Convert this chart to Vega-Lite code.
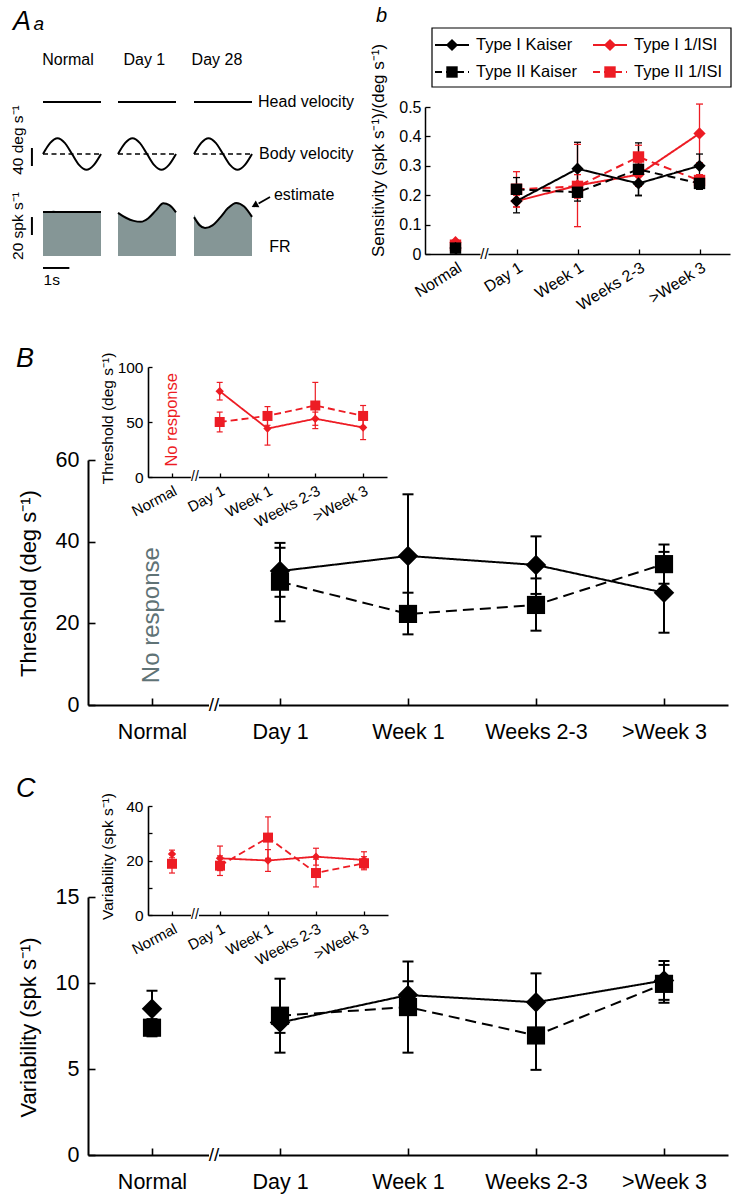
{
"$schema":"https://vega.github.io/schema/vega-lite/v6.json",
"width":733,"height":1199,"padding":0,"autosize":{"type":"none"},"background":"white",
"config":{"view":{"stroke":null},"font":"Liberation Sans",
 "axis":{"grid":false,"domainColor":"#000","tickColor":"#000","labelColor":"#000","titleColor":"#000","titleFontWeight":"normal","labelFont":"Liberation Sans","titleFont":"Liberation Sans"},
 "text":{"font":"Liberation Sans","color":"#000"}},
"datasets":{
 "notes":[{"id":"A","txt":"A"},{"id":"a","txt":"a"},{"id":"normal","txt":"Normal"},{"id":"day1","txt":"Day 1"},{"id":"day28","txt":"Day 28"},{"id":"head","txt":"Head velocity"},{"id":"body","txt":"Body velocity"},{"id":"est","txt":"estimate"},{"id":"fr","txt":"FR"},{"id":"deg","txt":"40 deg s⁻¹"},{"id":"spk","txt":"20 spk s⁻¹"},{"id":"sec","txt":"1s"},{"id":"b","txt":"b"},{"id":"B","txt":"B"},{"id":"C","txt":"C"},{"id":"nr","txt":"No response"},{"id":"brk","txt":"//"}],
 "tr":[
  {"cond":"Normal","trace":"head","t":0,"v":0},{"cond":"Normal","trace":"head","t":2.2,"v":0},
  {"cond":"Day 1","trace":"head","t":0,"v":0},{"cond":"Day 1","trace":"head","t":2.2,"v":0},
  {"cond":"Day 28","trace":"head","t":0,"v":0},{"cond":"Day 28","trace":"head","t":2.2,"v":0},
  {"cond":"Normal","trace":"body","t":0,"v":0},{"cond":"Normal","trace":"body","t":0.275,"v":24.7},{"cond":"Normal","trace":"body","t":0.55,"v":35},{"cond":"Normal","trace":"body","t":0.825,"v":24.7},{"cond":"Normal","trace":"body","t":1.1,"v":0},{"cond":"Normal","trace":"body","t":1.375,"v":-24.7},{"cond":"Normal","trace":"body","t":1.65,"v":-35},{"cond":"Normal","trace":"body","t":1.925,"v":-24.7},{"cond":"Normal","trace":"body","t":2.2,"v":0},
  {"cond":"Day 1","trace":"body","t":0,"v":0},{"cond":"Day 1","trace":"body","t":0.275,"v":24.7},{"cond":"Day 1","trace":"body","t":0.55,"v":35},{"cond":"Day 1","trace":"body","t":0.825,"v":24.7},{"cond":"Day 1","trace":"body","t":1.1,"v":0},{"cond":"Day 1","trace":"body","t":1.375,"v":-24.7},{"cond":"Day 1","trace":"body","t":1.65,"v":-35},{"cond":"Day 1","trace":"body","t":1.925,"v":-24.7},{"cond":"Day 1","trace":"body","t":2.2,"v":0},
  {"cond":"Day 28","trace":"body","t":0,"v":0},{"cond":"Day 28","trace":"body","t":0.275,"v":24.7},{"cond":"Day 28","trace":"body","t":0.55,"v":35},{"cond":"Day 28","trace":"body","t":0.825,"v":24.7},{"cond":"Day 28","trace":"body","t":1.1,"v":0},{"cond":"Day 28","trace":"body","t":1.375,"v":-24.7},{"cond":"Day 28","trace":"body","t":1.65,"v":-35},{"cond":"Day 28","trace":"body","t":1.925,"v":-24.7},{"cond":"Day 28","trace":"body","t":2.2,"v":0},
  {"cond":"Normal","trace":"est","t":0,"v":49},{"cond":"Normal","trace":"est","t":2.2,"v":49},
  {"cond":"Day 1","trace":"est","t":0,"v":48},{"cond":"Day 1","trace":"est","t":0.3,"v":42.5},{"cond":"Day 1","trace":"est","t":0.6,"v":39},{"cond":"Day 1","trace":"est","t":0.87,"v":38},{"cond":"Day 1","trace":"est","t":1.15,"v":42},{"cond":"Day 1","trace":"est","t":1.45,"v":51},{"cond":"Day 1","trace":"est","t":1.72,"v":58.5},{"cond":"Day 1","trace":"est","t":1.95,"v":56.5},{"cond":"Day 1","trace":"est","t":2.2,"v":48.5},
  {"cond":"Day 28","trace":"est","t":0,"v":43},{"cond":"Day 28","trace":"est","t":0.2,"v":34.5},{"cond":"Day 28","trace":"est","t":0.42,"v":31},{"cond":"Day 28","trace":"est","t":0.7,"v":34},{"cond":"Day 28","trace":"est","t":1.0,"v":43},{"cond":"Day 28","trace":"est","t":1.3,"v":53.5},{"cond":"Day 28","trace":"est","t":1.6,"v":59},{"cond":"Day 28","trace":"est","t":1.9,"v":55},{"cond":"Day 28","trace":"est","t":2.2,"v":43.5},
  {"cond":"Normal","trace":"rate","t":0,"v":48.5},{"cond":"Normal","trace":"rate","t":0.25,"v":49},{"cond":"Normal","trace":"rate","t":0.4,"v":50.5},{"cond":"Normal","trace":"rate","t":0.55,"v":49},{"cond":"Normal","trace":"rate","t":0.8,"v":48.5},{"cond":"Normal","trace":"rate","t":2.2,"v":48.5},
  {"cond":"Day 1","trace":"rate","t":0,"v":47.5},{"cond":"Day 1","trace":"rate","t":0.3,"v":42},{"cond":"Day 1","trace":"rate","t":0.6,"v":38.5},{"cond":"Day 1","trace":"rate","t":0.87,"v":37.5},{"cond":"Day 1","trace":"rate","t":1.15,"v":41.5},{"cond":"Day 1","trace":"rate","t":1.45,"v":50.5},{"cond":"Day 1","trace":"rate","t":1.72,"v":58},{"cond":"Day 1","trace":"rate","t":1.95,"v":56},{"cond":"Day 1","trace":"rate","t":2.2,"v":48},
  {"cond":"Day 28","trace":"rate","t":0,"v":46},{"cond":"Day 28","trace":"rate","t":0.2,"v":37},{"cond":"Day 28","trace":"rate","t":0.42,"v":32},{"cond":"Day 28","trace":"rate","t":0.7,"v":34},{"cond":"Day 28","trace":"rate","t":1.0,"v":42.5},{"cond":"Day 28","trace":"rate","t":1.3,"v":53},{"cond":"Day 28","trace":"rate","t":1.6,"v":58.5},{"cond":"Day 28","trace":"rate","t":1.9,"v":54},{"cond":"Day 28","trace":"rate","t":2.2,"v":43}
 ],
 "sens":[
  {"cond":"Normal","type":"Type I","method":"1/ISI","v":0.04,"lo":0.035,"hi":0.045},
  {"cond":"Day 1","type":"Type I","method":"1/ISI","v":0.18,"lo":0.16,"hi":0.2},
  {"cond":"Week 1","type":"Type I","method":"1/ISI","v":0.233,"lo":0.093,"hi":0.373},
  {"cond":"Weeks 2-3","type":"Type I","method":"1/ISI","v":0.27,"lo":0.23,"hi":0.31},
  {"cond":">Week 3","type":"Type I","method":"1/ISI","v":0.41,"lo":0.31,"hi":0.51},
  {"cond":"Normal","type":"Type II","method":"1/ISI","v":0.03,"lo":0.025,"hi":0.035},
  {"cond":"Day 1","type":"Type II","method":"1/ISI","v":0.22,"lo":0.16,"hi":0.28},
  {"cond":"Week 1","type":"Type II","method":"1/ISI","v":0.23,"lo":0.19,"hi":0.27},
  {"cond":"Weeks 2-3","type":"Type II","method":"1/ISI","v":0.33,"lo":0.29,"hi":0.37},
  {"cond":">Week 3","type":"Type II","method":"1/ISI","v":0.25,"lo":0.23,"hi":0.27},
  {"cond":"Normal","type":"Type I","method":"Kaiser","v":0.02,"lo":0.012,"hi":0.028},
  {"cond":"Day 1","type":"Type I","method":"Kaiser","v":0.18,"lo":0.14,"hi":0.22},
  {"cond":"Week 1","type":"Type I","method":"Kaiser","v":0.29,"lo":0.2,"hi":0.38},
  {"cond":"Weeks 2-3","type":"Type I","method":"Kaiser","v":0.24,"lo":0.2,"hi":0.28},
  {"cond":">Week 3","type":"Type I","method":"Kaiser","v":0.3,"lo":0.26,"hi":0.34},
  {"cond":"Normal","type":"Type II","method":"Kaiser","v":0.02,"lo":0.012,"hi":0.028},
  {"cond":"Day 1","type":"Type II","method":"Kaiser","v":0.22,"lo":0.18,"hi":0.26},
  {"cond":"Week 1","type":"Type II","method":"Kaiser","v":0.21,"lo":0.18,"hi":0.24},
  {"cond":"Weeks 2-3","type":"Type II","method":"Kaiser","v":0.288,"lo":0.198,"hi":0.378},
  {"cond":">Week 3","type":"Type II","method":"Kaiser","v":0.24,"lo":0.22,"hi":0.26}
 ],
 "thr":[
  {"cond":"Day 1","type":"Type I","method":"Kaiser","v":32.8,"lo":26.5,"hi":39.7},
  {"cond":"Week 1","type":"Type I","method":"Kaiser","v":36.5,"lo":21.5,"hi":51.6},
  {"cond":"Weeks 2-3","type":"Type I","method":"Kaiser","v":34.3,"lo":27.2,"hi":41.3},
  {"cond":">Week 3","type":"Type I","method":"Kaiser","v":27.5,"lo":17.7,"hi":37.5},
  {"cond":"Day 1","type":"Type II","method":"Kaiser","v":30.2,"lo":20.5,"hi":38.5},
  {"cond":"Week 1","type":"Type II","method":"Kaiser","v":22.3,"lo":17.3,"hi":27.5},
  {"cond":"Weeks 2-3","type":"Type II","method":"Kaiser","v":24.5,"lo":18.2,"hi":31},
  {"cond":">Week 3","type":"Type II","method":"Kaiser","v":34.5,"lo":29.7,"hi":39.3},
  {"cond":"Day 1","type":"Type I","method":"1/ISI","v":78,"lo":70,"hi":86},
  {"cond":"Week 1","type":"Type I","method":"1/ISI","v":44,"lo":29,"hi":56},
  {"cond":"Weeks 2-3","type":"Type I","method":"1/ISI","v":53,"lo":47,"hi":59},
  {"cond":">Week 3","type":"Type I","method":"1/ISI","v":45,"lo":34,"hi":56},
  {"cond":"Day 1","type":"Type II","method":"1/ISI","v":50,"lo":41,"hi":59},
  {"cond":"Week 1","type":"Type II","method":"1/ISI","v":55.5,"lo":47,"hi":64},
  {"cond":"Weeks 2-3","type":"Type II","method":"1/ISI","v":65,"lo":44,"hi":86},
  {"cond":">Week 3","type":"Type II","method":"1/ISI","v":55.5,"lo":46,"hi":65}
 ],
 "var":[
  {"cond":"Normal","type":"Type I","method":"Kaiser","v":8.5,"lo":7.45,"hi":9.55},
  {"cond":"Day 1","type":"Type I","method":"Kaiser","v":7.7,"lo":7.1,"hi":8.3},
  {"cond":"Week 1","type":"Type I","method":"Kaiser","v":9.3,"lo":8.5,"hi":10.1},
  {"cond":"Weeks 2-3","type":"Type I","method":"Kaiser","v":8.88,"lo":7.2,"hi":10.56},
  {"cond":">Week 3","type":"Type I","method":"Kaiser","v":10.15,"lo":9.02,"hi":11.28},
  {"cond":"Normal","type":"Type II","method":"Kaiser","v":7.4,"lo":6.9,"hi":7.9},
  {"cond":"Day 1","type":"Type II","method":"Kaiser","v":8.1,"lo":5.95,"hi":10.25},
  {"cond":"Week 1","type":"Type II","method":"Kaiser","v":8.6,"lo":5.95,"hi":11.25},
  {"cond":"Weeks 2-3","type":"Type II","method":"Kaiser","v":6.95,"lo":4.95,"hi":8.95},
  {"cond":">Week 3","type":"Type II","method":"Kaiser","v":9.95,"lo":8.85,"hi":11.05},
  {"cond":"Normal","type":"Type I","method":"1/ISI","v":22.4,"lo":21,"hi":23.8},
  {"cond":"Day 1","type":"Type I","method":"1/ISI","v":20.8,"lo":16.3,"hi":25.3},
  {"cond":"Week 1","type":"Type I","method":"1/ISI","v":20,"lo":16,"hi":24},
  {"cond":"Weeks 2-3","type":"Type I","method":"1/ISI","v":21.4,"lo":18.3,"hi":24.5},
  {"cond":">Week 3","type":"Type I","method":"1/ISI","v":20.2,"lo":17.2,"hi":23.2},
  {"cond":"Normal","type":"Type II","method":"1/ISI","v":18.8,"lo":15.4,"hi":22.2},
  {"cond":"Day 1","type":"Type II","method":"1/ISI","v":18.1,"lo":14.5,"hi":21.7},
  {"cond":"Week 1","type":"Type II","method":"1/ISI","v":28.4,"lo":20.8,"hi":36},
  {"cond":"Weeks 2-3","type":"Type II","method":"1/ISI","v":15.4,"lo":10.3,"hi":20.5},
  {"cond":">Week 3","type":"Type II","method":"1/ISI","v":19,"lo":16.6,"hi":21.4}
 ],
 "leg":[
  {"type":"Type I","method":"Kaiser","label":"Type I Kaiser"},
  {"type":"Type I","method":"1/ISI","label":"Type I 1/ISI"},
  {"type":"Type II","method":"Kaiser","label":"Type II Kaiser"},
  {"type":"Type II","method":"1/ISI","label":"Type II 1/ISI"}
 ]
},
"resolve":{"scale":{"x":"independent","y":"independent"}},
"layer":[
 {"layer":[
  {"data":{"name":"tr"},"transform":[{"filter":"datum.cond === 'Normal' && datum.trace === 'head'"}],"mark":{"type":"line","color":"#000","strokeWidth":2.2},"encoding":{"x":{"field":"t","type":"quantitative","scale":{"domain":[0,2.2],"range":[43,101],"nice":false,"zero":false},"axis":null},"y":{"field":"v","type":"quantitative","scale":{"domain":[-40,40],"range":[120,84],"nice":false,"zero":false},"axis":null}}},
  {"data":{"name":"notes"},"transform":[{"filter":"datum.id === 'normal'"}],"mark":{"type":"text","fontSize":16,"align":"center","baseline":"middle"},"encoding":{"x":{"datum":0.95,"axis":null},"y":{"datum":93,"axis":null},"text":{"field":"txt"}}},
  {"data":{"name":"notes"},"transform":[{"filter":"datum.id === 'A'"}],"mark":{"type":"text","fontSize":27,"fontStyle":"italic","align":"left","baseline":"alphabetic"},"encoding":{"x":{"datum":-1.14,"axis":null},"y":{"datum":160,"axis":null},"text":{"field":"txt"}}},
  {"data":{"name":"notes"},"transform":[{"filter":"datum.id === 'a'"}],"mark":{"type":"text","fontSize":19,"fontStyle":"italic","align":"left","baseline":"alphabetic"},"encoding":{"x":{"datum":-0.36,"axis":null},"y":{"datum":160,"axis":null},"text":{"field":"txt"}}}
 ]},
 {"layer":[
  {"data":{"name":"tr"},"transform":[{"filter":"datum.cond === 'Normal' && datum.trace === 'body'"}],"mark":{"type":"line","color":"#000","strokeWidth":2,"interpolate":"monotone"},"encoding":{"x":{"field":"t","type":"quantitative","scale":{"domain":[0,2.2],"range":[43,101],"nice":false,"zero":false},"axis":null},"y":{"field":"v","type":"quantitative","scale":{"domain":[-40,40],"range":[172,136],"nice":false,"zero":false},"axis":null}}},
  {"data":{"name":"notes"},"transform":[{"filter":"datum.id === 'deg'"}],"mark":{"type":"rule","color":"#000","strokeWidth":1.5,"strokeDash":[5,3.5]},"encoding":{"x":{"datum":0,"axis":null},"x2":{"datum":2.2},"y":{"datum":0,"axis":null}}},
  {"data":{"name":"notes"},"transform":[{"filter":"datum.id === 'deg'"}],"mark":{"type":"rule","color":"#000","strokeWidth":2},"encoding":{"x":{"datum":-0.42,"axis":null},"y":{"datum":-26.7,"axis":null},"y2":{"datum":13.3}}},
  {"data":{"name":"notes"},"transform":[{"filter":"datum.id === 'deg'"}],"mark":{"type":"text","fontSize":15.5,"angle":270,"align":"center","baseline":"middle"},"encoding":{"x":{"datum":-0.95,"axis":null},"y":{"datum":31,"axis":null},"text":{"field":"txt"}}}
 ]},
 {"layer":[
  {"data":{"name":"tr"},"transform":[{"filter":"datum.cond === 'Normal' && datum.trace === 'rate'"}],"mark":{"type":"area","color":"#859696","opacity":1,"interpolate":"monotone"},"encoding":{"x":{"field":"t","type":"quantitative","scale":{"domain":[0,2.2],"range":[43,101],"nice":false,"zero":false},"axis":null},"y":{"field":"v","type":"quantitative","scale":{"domain":[0,60],"range":[256,202],"nice":false,"zero":false},"axis":null}}},
  {"data":{"name":"tr"},"transform":[{"filter":"datum.cond === 'Normal' && datum.trace === 'est'"}],"mark":{"type":"line","color":"#000","strokeWidth":2,"interpolate":"monotone"},"encoding":{"x":{"field":"t","type":"quantitative","axis":null},"y":{"field":"v","type":"quantitative","axis":null}}},
  {"data":{"name":"notes"},"transform":[{"filter":"datum.id === 'spk'"}],"mark":{"type":"rule","color":"#000","strokeWidth":2},"encoding":{"x":{"datum":-0.42,"axis":null},"y":{"datum":23.3,"axis":null},"y2":{"datum":43.3}}},
  {"data":{"name":"notes"},"transform":[{"filter":"datum.id === 'sec'"}],"mark":{"type":"rule","color":"#000","strokeWidth":2},"encoding":{"x":{"datum":0,"axis":null},"x2":{"datum":1},"y":{"datum":-13.3,"axis":null}}},
  {"data":{"name":"notes"},"transform":[{"filter":"datum.id === 'spk'"}],"mark":{"type":"text","fontSize":15.5,"angle":270,"align":"center","baseline":"middle"},"encoding":{"x":{"datum":-0.95,"axis":null},"y":{"datum":33.3,"axis":null},"text":{"field":"txt"}}},
  {"data":{"name":"notes"},"transform":[{"filter":"datum.id === 'sec'"}],"mark":{"type":"text","fontSize":15.5,"align":"left","baseline":"middle"},"encoding":{"x":{"datum":0.02,"axis":null},"y":{"datum":-27,"axis":null},"text":{"field":"txt"}}}
 ]},
 {"layer":[
  {"data":{"name":"tr"},"transform":[{"filter":"datum.cond === 'Day 1' && datum.trace === 'head'"}],"mark":{"type":"line","color":"#000","strokeWidth":2.2},"encoding":{"x":{"field":"t","type":"quantitative","scale":{"domain":[0,2.2],"range":[118,176],"nice":false,"zero":false},"axis":null},"y":{"field":"v","type":"quantitative","scale":{"domain":[-40,40],"range":[120,84],"nice":false,"zero":false},"axis":null}}},
  {"data":{"name":"notes"},"transform":[{"filter":"datum.id === 'day1'"}],"mark":{"type":"text","fontSize":16,"align":"center","baseline":"middle"},"encoding":{"x":{"datum":1.0,"axis":null},"y":{"datum":93,"axis":null},"text":{"field":"txt"}}}
 ]},
 {"layer":[
  {"data":{"name":"tr"},"transform":[{"filter":"datum.cond === 'Day 1' && datum.trace === 'body'"}],"mark":{"type":"line","color":"#000","strokeWidth":2,"interpolate":"monotone"},"encoding":{"x":{"field":"t","type":"quantitative","scale":{"domain":[0,2.2],"range":[118,176],"nice":false,"zero":false},"axis":null},"y":{"field":"v","type":"quantitative","scale":{"domain":[-40,40],"range":[172,136],"nice":false,"zero":false},"axis":null}}},
  {"data":{"name":"notes"},"transform":[{"filter":"datum.id === 'day1'"}],"mark":{"type":"rule","color":"#000","strokeWidth":1.5,"strokeDash":[5,3.5]},"encoding":{"x":{"datum":0,"axis":null},"x2":{"datum":2.2},"y":{"datum":0,"axis":null}}}
 ]},
 {"layer":[
  {"data":{"name":"tr"},"transform":[{"filter":"datum.cond === 'Day 1' && datum.trace === 'rate'"}],"mark":{"type":"area","color":"#859696","opacity":1,"interpolate":"monotone"},"encoding":{"x":{"field":"t","type":"quantitative","scale":{"domain":[0,2.2],"range":[118,176],"nice":false,"zero":false},"axis":null},"y":{"field":"v","type":"quantitative","scale":{"domain":[0,60],"range":[256,202],"nice":false,"zero":false},"axis":null}}},
  {"data":{"name":"tr"},"transform":[{"filter":"datum.cond === 'Day 1' && datum.trace === 'est'"}],"mark":{"type":"line","color":"#000","strokeWidth":2,"interpolate":"monotone"},"encoding":{"x":{"field":"t","type":"quantitative","axis":null},"y":{"field":"v","type":"quantitative","axis":null}}}
 ]},
 {"layer":[
  {"data":{"name":"tr"},"transform":[{"filter":"datum.cond === 'Day 28' && datum.trace === 'head'"}],"mark":{"type":"line","color":"#000","strokeWidth":2.2},"encoding":{"x":{"field":"t","type":"quantitative","scale":{"domain":[0,2.2],"range":[194,252],"nice":false,"zero":false},"axis":null},"y":{"field":"v","type":"quantitative","scale":{"domain":[-40,40],"range":[120,84],"nice":false,"zero":false},"axis":null}}},
  {"data":{"name":"notes"},"transform":[{"filter":"datum.id === 'day28'"}],"mark":{"type":"text","fontSize":16,"align":"center","baseline":"middle"},"encoding":{"x":{"datum":0.87,"axis":null},"y":{"datum":93,"axis":null},"text":{"field":"txt"}}},
  {"data":{"name":"notes"},"transform":[{"filter":"datum.id === 'head'"}],"mark":{"type":"text","fontSize":16,"align":"left","baseline":"middle"},"encoding":{"x":{"datum":2.43,"axis":null},"y":{"datum":0,"axis":null},"text":{"field":"txt"}}}
 ]},
 {"layer":[
  {"data":{"name":"tr"},"transform":[{"filter":"datum.cond === 'Day 28' && datum.trace === 'body'"}],"mark":{"type":"line","color":"#000","strokeWidth":2,"interpolate":"monotone"},"encoding":{"x":{"field":"t","type":"quantitative","scale":{"domain":[0,2.2],"range":[194,252],"nice":false,"zero":false},"axis":null},"y":{"field":"v","type":"quantitative","scale":{"domain":[-40,40],"range":[172,136],"nice":false,"zero":false},"axis":null}}},
  {"data":{"name":"notes"},"transform":[{"filter":"datum.id === 'body'"}],"mark":{"type":"rule","color":"#000","strokeWidth":1.5,"strokeDash":[5,3.5]},"encoding":{"x":{"datum":0,"axis":null},"x2":{"datum":2.2},"y":{"datum":0,"axis":null}}},
  {"data":{"name":"notes"},"transform":[{"filter":"datum.id === 'body'"}],"mark":{"type":"text","fontSize":16,"align":"left","baseline":"middle"},"encoding":{"x":{"datum":2.47,"axis":null},"y":{"datum":0,"axis":null},"text":{"field":"txt"}}}
 ]},
 {"layer":[
  {"data":{"name":"tr"},"transform":[{"filter":"datum.cond === 'Day 28' && datum.trace === 'rate'"}],"mark":{"type":"area","color":"#859696","opacity":1,"interpolate":"monotone"},"encoding":{"x":{"field":"t","type":"quantitative","scale":{"domain":[0,2.2],"range":[194,252],"nice":false,"zero":false},"axis":null},"y":{"field":"v","type":"quantitative","scale":{"domain":[0,60],"range":[256,202],"nice":false,"zero":false},"axis":null}}},
  {"data":{"name":"tr"},"transform":[{"filter":"datum.cond === 'Day 28' && datum.trace === 'est'"}],"mark":{"type":"line","color":"#000","strokeWidth":2,"interpolate":"monotone"},"encoding":{"x":{"field":"t","type":"quantitative","axis":null},"y":{"field":"v","type":"quantitative","axis":null}}},
  {"data":{"name":"notes"},"transform":[{"filter":"datum.id === 'est'"}],"mark":{"type":"rule","color":"#000","strokeWidth":1.8},"encoding":{"x":{"datum":2.45,"axis":null},"x2":{"datum":2.883},"y":{"datum":58.3,"axis":null},"y2":{"datum":65.6}}},
  {"data":{"name":"notes"},"transform":[{"filter":"datum.id === 'est'"}],"mark":{"type":"point","shape":"triangle-left","filled":true,"color":"#000","opacity":1,"size":60,"angle":-28},"encoding":{"x":{"datum":2.3,"axis":null},"y":{"datum":56.2,"axis":null}}},
  {"data":{"name":"notes"},"transform":[{"filter":"datum.id === 'est'"}],"mark":{"type":"text","fontSize":16,"align":"left","baseline":"middle"},"encoding":{"x":{"datum":3.03,"axis":null},"y":{"datum":67.8,"axis":null},"text":{"field":"txt"}}},
  {"data":{"name":"notes"},"transform":[{"filter":"datum.id === 'fr'"}],"mark":{"type":"text","fontSize":16,"align":"left","baseline":"middle"},"encoding":{"x":{"datum":2.85,"axis":null},"y":{"datum":10,"axis":null},"text":{"field":"txt"}}}
 ]},
 {"layer":[
  {"data":{"name":"sens"},"transform":[{"filter":"datum.cond !== 'Normal'"}],"mark":{"type":"line","strokeWidth":2},"encoding":{
    "x":{"field":"cond","type":"nominal","scale":{"type":"point","domain":["Normal","Day 1","Week 1","Weeks 2-3",">Week 3"],"range":[425,730],"padding":0.5},"axis":{"orient":"bottom","offset":-945,"title":null,"labelAngle":-32,"labelFontSize":16,"tickSize":-5,"labelPadding":10,"domainWidth":1.5,"tickWidth":1.3}},
    "y":{"field":"v","type":"quantitative","scale":{"domain":[0,0.5],"range":[254,107],"nice":false,"zero":false},"axis":{"orient":"left","offset":-425,"values":[0,0.1,0.2,0.3,0.4,0.5],"format":"~g","title":"Sensitivity (spk s⁻¹)/(deg s⁻¹)","titleFontSize":17,"titleX":-47,"titleY":150,"titleBaseline":"middle","titleAngle":270,"labelFontSize":16,"tickSize":-5,"labelPadding":9,"domainWidth":1.5,"tickWidth":1.3}},
    "detail":[{"field":"method","type":"nominal"},{"field":"type","type":"nominal"}],
    "color":{"condition":{"test":"datum.method === 'Kaiser'","value":"#000000"},"value":"#ed1c24"},
    "strokeDash":{"condition":{"test":"datum.type === 'Type II'","value":[8,5]},"value":[1,0]},
    "order":{"value":null}}},
  {"data":{"name":"notes"},"transform":[{"filter":"datum.id === 'brk'"}],"mark":{"type":"rect","color":"white","xOffset":25,"x2Offset":33,"yOffset":-4,"y2Offset":4},"encoding":{"x":{"datum":"Normal"},"x2":{"datum":"Normal"},"y":{"datum":0},"y2":{"datum":0}}},
  {"data":{"name":"notes"},"transform":[{"filter":"datum.id === 'brk'"}],"mark":{"type":"text","align":"center","baseline":"middle","fontSize":15,"dx":29},"encoding":{"x":{"datum":"Normal"},"y":{"datum":0},"text":{"field":"txt"}}},
  {"data":{"name":"sens"},"mark":{"type":"rule","strokeWidth":1.3},"encoding":{"x":{"field":"cond","type":"nominal"},"y":{"field":"lo","type":"quantitative"},"y2":{"field":"hi"},"color":{"condition":{"test":"datum.method === 'Kaiser'","value":"#000000"},"value":"#ed1c24"}}},
  {"data":{"name":"sens"},"mark":{"type":"tick","thickness":1.3,"size":7,"opacity":1},"encoding":{"x":{"field":"cond","type":"nominal"},"y":{"field":"lo","type":"quantitative"},"color":{"condition":{"test":"datum.method === 'Kaiser'","value":"#000000"},"value":"#ed1c24"}}},
  {"data":{"name":"sens"},"mark":{"type":"tick","thickness":1.3,"size":7,"opacity":1},"encoding":{"x":{"field":"cond","type":"nominal"},"y":{"field":"hi","type":"quantitative"},"color":{"condition":{"test":"datum.method === 'Kaiser'","value":"#000000"},"value":"#ed1c24"}}},
  {"data":{"name":"sens"},"mark":{"type":"point","filled":true,"opacity":1},"encoding":{"x":{"field":"cond","type":"nominal"},"y":{"field":"v","type":"quantitative"},"shape":{"condition":{"test":"datum.type === 'Type I'","value":"diamond"},"value":"square"},"size":{"condition":{"test":"datum.type === 'Type I'","value":150},"value":130},"color":{"condition":{"test":"datum.method === 'Kaiser'","value":"#000000"},"value":"#ed1c24"}}}
 ]},
 {"layer":[
  {"data":{"name":"leg"},"transform":[{"filter":"datum.method === 'Kaiser' && datum.type === 'Type I'"}],"mark":{"type":"rect","fill":"white","stroke":"#000","strokeWidth":1.2,"xOffset":-20,"x2Offset":121,"yOffset":-17,"y2Offset":15},"encoding":{"x":{"datum":"Kaiser","axis":null},"x2":{"datum":"1/ISI"},"y":{"datum":"Type I","axis":null},"y2":{"datum":"Type II"}}},
  {"data":{"name":"leg"},"transform":[{"filter":"datum.method === 'Kaiser'"}],"mark":{"type":"rule","color":"#000","strokeWidth":2,"xOffset":-17,"x2Offset":17},"encoding":{"x":{"datum":"Kaiser","axis":null},"x2":{"datum":"Kaiser"},"y":{"field":"type","type":"nominal","axis":null},"strokeDash":{"condition":{"test":"datum.type === 'Type II'","value":[7,4]},"value":[1,0]}}},
  {"data":{"name":"leg"},"transform":[{"filter":"datum.method === '1/ISI'"}],"mark":{"type":"rule","color":"#ed1c24","strokeWidth":2,"xOffset":-17,"x2Offset":17},"encoding":{"x":{"datum":"1/ISI","axis":null},"x2":{"datum":"1/ISI"},"y":{"field":"type","type":"nominal","axis":null},"strokeDash":{"condition":{"test":"datum.type === 'Type II'","value":[7,4]},"value":[1,0]}}},
  {"data":{"name":"leg"},"mark":{"type":"point","filled":true,"opacity":1},"encoding":{
    "x":{"field":"method","type":"nominal","scale":{"type":"point","domain":["Kaiser","1/ISI"],"range":[452,610],"padding":0},"axis":null},
    "y":{"field":"type","type":"nominal","scale":{"type":"point","domain":["Type I","Type II"],"range":[45,72],"padding":0},"axis":null},
    "shape":{"condition":{"test":"datum.type === 'Type I'","value":"diamond"},"value":"square"},"size":{"condition":{"test":"datum.type === 'Type I'","value":150},"value":130},"color":{"condition":{"test":"datum.method === 'Kaiser'","value":"#000000"},"value":"#ed1c24"}}},
  {"data":{"name":"leg"},"mark":{"type":"text","align":"left","baseline":"middle","fontSize":16.5,"dx":24},"encoding":{"x":{"field":"method","type":"nominal","axis":null},"y":{"field":"type","type":"nominal","axis":null},"text":{"field":"label"}}},
  {"data":{"name":"notes"},"transform":[{"filter":"datum.id === 'b'"}],"mark":{"type":"text","fontSize":20,"fontStyle":"italic","align":"left","baseline":"alphabetic","dx":-76,"dy":-23},"encoding":{"x":{"datum":"Kaiser","axis":null},"y":{"datum":"Type I","axis":null},"text":{"field":"txt"}}}
 ]},
 {"layer":[
  {"data":{"name":"thr"},"transform":[{"filter":"datum.method === 'Kaiser'"}],"mark":{"type":"line","color":"#000","strokeWidth":2},"encoding":{
    "x":{"field":"cond","type":"nominal","scale":{"type":"point","domain":["Normal","Day 1","Week 1","Weeks 2-3",">Week 3"],"range":[88,728],"padding":0.5},"axis":{"orient":"bottom","offset":-494,"title":null,"labelAngle":0,"labelFontSize":21.5,"tickSize":-7,"labelPadding":23,"domainWidth":2,"tickWidth":1.6}},
    "y":{"field":"v","type":"quantitative","scale":{"domain":[0,60],"range":[705,460],"nice":false,"zero":false},"axis":{"orient":"left","offset":-88,"values":[0,20,40,60],"format":"d","title":"Threshold (deg s⁻¹)","titleFontSize":22,"titleX":-60,"titleY":583,"titleBaseline":"middle","titleAngle":270,"labelFontSize":21.5,"tickSize":-7,"labelPadding":16,"domainWidth":2,"tickWidth":1.6}},
    "detail":{"field":"type","type":"nominal"},
    "strokeDash":{"condition":{"test":"datum.type === 'Type II'","value":[11,6]},"value":[1,0]},
    "order":{"value":null}}},
  {"data":{"name":"notes"},"transform":[{"filter":"datum.id === 'brk'"}],"mark":{"type":"rect","color":"white","xOffset":57,"x2Offset":67,"yOffset":-4,"y2Offset":4},"encoding":{"x":{"datum":"Normal"},"x2":{"datum":"Normal"},"y":{"datum":0},"y2":{"datum":0}}},
  {"data":{"name":"notes"},"transform":[{"filter":"datum.id === 'brk'"}],"mark":{"type":"text","align":"center","baseline":"middle","fontSize":19,"dx":62},"encoding":{"x":{"datum":"Normal"},"y":{"datum":0},"text":{"field":"txt"}}},
  {"data":{"name":"notes"},"transform":[{"filter":"datum.id === 'nr'"}],"mark":{"type":"text","angle":270,"align":"center","baseline":"middle","fontSize":24,"color":"#5f7376"},"encoding":{"x":{"datum":"Normal"},"y":{"datum":22},"text":{"field":"txt"}}},
  {"data":{"name":"notes"},"transform":[{"filter":"datum.id === 'B'"}],"mark":{"type":"text","align":"left","baseline":"alphabetic","fontSize":27,"fontStyle":"italic","dx":-136},"encoding":{"x":{"datum":"Normal"},"y":{"datum":82.8},"text":{"field":"txt"}}},
  {"data":{"name":"thr"},"transform":[{"filter":"datum.method === 'Kaiser'"}],"mark":{"type":"rule","color":"#000","strokeWidth":2},"encoding":{"x":{"field":"cond","type":"nominal"},"y":{"field":"lo","type":"quantitative"},"y2":{"field":"hi"}}},
  {"data":{"name":"thr"},"transform":[{"filter":"datum.method === 'Kaiser'"}],"mark":{"type":"tick","color":"#000","thickness":2,"size":11,"opacity":1},"encoding":{"x":{"field":"cond","type":"nominal"},"y":{"field":"lo","type":"quantitative"}}},
  {"data":{"name":"thr"},"transform":[{"filter":"datum.method === 'Kaiser'"}],"mark":{"type":"tick","color":"#000","thickness":2,"size":11,"opacity":1},"encoding":{"x":{"field":"cond","type":"nominal"},"y":{"field":"hi","type":"quantitative"}}},
  {"data":{"name":"thr"},"transform":[{"filter":"datum.method === 'Kaiser'"}],"mark":{"type":"point","filled":true,"color":"#000","opacity":1},"encoding":{"x":{"field":"cond","type":"nominal"},"y":{"field":"v","type":"quantitative"},"shape":{"condition":{"test":"datum.type === 'Type I'","value":"diamond"},"value":"square"},"size":{"condition":{"test":"datum.type === 'Type I'","value":420},"value":330}}}
 ]},
 {"layer":[
  {"data":{"name":"thr"},"transform":[{"filter":"datum.method === '1/ISI'"}],"mark":{"type":"line","color":"#ed1c24","strokeWidth":1.8},"encoding":{
    "x":{"field":"cond","type":"nominal","scale":{"type":"point","domain":["Normal","Day 1","Week 1","Weeks 2-3",">Week 3"],"range":[148,387],"padding":0.5},"axis":{"orient":"bottom","offset":-722,"title":null,"labelAngle":-28,"labelFontSize":15,"tickSize":-4,"labelPadding":10,"domainWidth":1.6,"tickWidth":1.3}},
    "y":{"field":"v","type":"quantitative","scale":{"domain":[0,100],"range":[477,367],"nice":false,"zero":false},"axis":{"orient":"left","offset":-148,"values":[0,50,100],"format":"d","title":"Threshold (deg s⁻¹)","titleFontSize":15.5,"titleX":-41,"titleY":418,"titleBaseline":"middle","titleAngle":270,"labelFontSize":15.5,"tickSize":-4,"labelPadding":9,"domainWidth":1.6,"tickWidth":1.3}},
    "detail":{"field":"type","type":"nominal"},
    "strokeDash":{"condition":{"test":"datum.type === 'Type II'","value":[7,4]},"value":[1,0]},
    "order":{"value":null}}},
  {"data":{"name":"notes"},"transform":[{"filter":"datum.id === 'brk'"}],"mark":{"type":"rect","color":"white","xOffset":19,"x2Offset":27,"yOffset":-4,"y2Offset":4},"encoding":{"x":{"datum":"Normal"},"x2":{"datum":"Normal"},"y":{"datum":0},"y2":{"datum":0}}},
  {"data":{"name":"notes"},"transform":[{"filter":"datum.id === 'brk'"}],"mark":{"type":"text","align":"center","baseline":"middle","fontSize":14,"dx":23},"encoding":{"x":{"datum":"Normal"},"y":{"datum":0},"text":{"field":"txt"}}},
  {"data":{"name":"notes"},"transform":[{"filter":"datum.id === 'nr'"}],"mark":{"type":"text","angle":270,"align":"center","baseline":"middle","fontSize":16.5,"color":"#ed1c24"},"encoding":{"x":{"datum":"Normal"},"y":{"datum":52},"text":{"field":"txt"}}},
  {"data":{"name":"thr"},"transform":[{"filter":"datum.method === '1/ISI'"}],"mark":{"type":"rule","color":"#ed1c24","strokeWidth":1.2},"encoding":{"x":{"field":"cond","type":"nominal"},"y":{"field":"lo","type":"quantitative"},"y2":{"field":"hi"}}},
  {"data":{"name":"thr"},"transform":[{"filter":"datum.method === '1/ISI'"}],"mark":{"type":"tick","color":"#ed1c24","thickness":1.2,"size":6,"opacity":1},"encoding":{"x":{"field":"cond","type":"nominal"},"y":{"field":"lo","type":"quantitative"}}},
  {"data":{"name":"thr"},"transform":[{"filter":"datum.method === '1/ISI'"}],"mark":{"type":"tick","color":"#ed1c24","thickness":1.2,"size":6,"opacity":1},"encoding":{"x":{"field":"cond","type":"nominal"},"y":{"field":"hi","type":"quantitative"}}},
  {"data":{"name":"thr"},"transform":[{"filter":"datum.method === '1/ISI'"}],"mark":{"type":"point","filled":true,"color":"#ed1c24","opacity":1},"encoding":{"x":{"field":"cond","type":"nominal"},"y":{"field":"v","type":"quantitative"},"shape":{"condition":{"test":"datum.type === 'Type I'","value":"diamond"},"value":"square"},"size":{"condition":{"test":"datum.type === 'Type I'","value":70},"value":100}}}
 ]},
 {"layer":[
  {"data":{"name":"var"},"transform":[{"filter":"datum.method === 'Kaiser' && datum.cond !== 'Normal'"}],"mark":{"type":"line","color":"#000","strokeWidth":2},"encoding":{
    "x":{"field":"cond","type":"nominal","scale":{"type":"point","domain":["Normal","Day 1","Week 1","Weeks 2-3",">Week 3"],"range":[88,728],"padding":0.5},"axis":{"orient":"bottom","offset":-44,"title":null,"labelAngle":0,"labelFontSize":21.5,"tickSize":-7,"labelPadding":23,"domainWidth":2,"tickWidth":1.6}},
    "y":{"field":"v","type":"quantitative","scale":{"domain":[0,15],"range":[1155,897],"nice":false,"zero":false},"axis":{"orient":"left","offset":-88,"values":[0,5,10,15],"format":"d","title":"Variability (spk s⁻¹)","titleFontSize":22,"titleX":-60,"titleY":1027,"titleBaseline":"middle","titleAngle":270,"labelFontSize":21.5,"tickSize":-7,"labelPadding":16,"domainWidth":2,"tickWidth":1.6}},
    "detail":{"field":"type","type":"nominal"},
    "strokeDash":{"condition":{"test":"datum.type === 'Type II'","value":[11,6]},"value":[1,0]},
    "order":{"value":null}}},
  {"data":{"name":"notes"},"transform":[{"filter":"datum.id === 'brk'"}],"mark":{"type":"rect","color":"white","xOffset":57,"x2Offset":67,"yOffset":-4,"y2Offset":4},"encoding":{"x":{"datum":"Normal"},"x2":{"datum":"Normal"},"y":{"datum":0},"y2":{"datum":0}}},
  {"data":{"name":"notes"},"transform":[{"filter":"datum.id === 'brk'"}],"mark":{"type":"text","align":"center","baseline":"middle","fontSize":19,"dx":62},"encoding":{"x":{"datum":"Normal"},"y":{"datum":0},"text":{"field":"txt"}}},
  {"data":{"name":"notes"},"transform":[{"filter":"datum.id === 'C'"}],"mark":{"type":"text","align":"left","baseline":"alphabetic","fontSize":27,"fontStyle":"italic","dx":-136},"encoding":{"x":{"datum":"Normal"},"y":{"datum":20.8},"text":{"field":"txt"}}},
  {"data":{"name":"var"},"transform":[{"filter":"datum.method === 'Kaiser'"}],"mark":{"type":"rule","color":"#000","strokeWidth":2},"encoding":{"x":{"field":"cond","type":"nominal"},"y":{"field":"lo","type":"quantitative"},"y2":{"field":"hi"}}},
  {"data":{"name":"var"},"transform":[{"filter":"datum.method === 'Kaiser'"}],"mark":{"type":"tick","color":"#000","thickness":2,"size":11,"opacity":1},"encoding":{"x":{"field":"cond","type":"nominal"},"y":{"field":"lo","type":"quantitative"}}},
  {"data":{"name":"var"},"transform":[{"filter":"datum.method === 'Kaiser'"}],"mark":{"type":"tick","color":"#000","thickness":2,"size":11,"opacity":1},"encoding":{"x":{"field":"cond","type":"nominal"},"y":{"field":"hi","type":"quantitative"}}},
  {"data":{"name":"var"},"transform":[{"filter":"datum.method === 'Kaiser'"}],"mark":{"type":"point","filled":true,"color":"#000","opacity":1},"encoding":{"x":{"field":"cond","type":"nominal"},"y":{"field":"v","type":"quantitative"},"shape":{"condition":{"test":"datum.type === 'Type I'","value":"diamond"},"value":"square"},"size":{"condition":{"test":"datum.type === 'Type I'","value":420},"value":330}}}
 ]},
 {"layer":[
  {"data":{"name":"var"},"transform":[{"filter":"datum.method === '1/ISI' && datum.cond !== 'Normal'"}],"mark":{"type":"line","color":"#ed1c24","strokeWidth":1.8},"encoding":{
    "x":{"field":"cond","type":"nominal","scale":{"type":"point","domain":["Normal","Day 1","Week 1","Weeks 2-3",">Week 3"],"range":[148,388],"padding":0.5},"axis":{"orient":"bottom","offset":-284,"title":null,"labelAngle":-28,"labelFontSize":15,"tickSize":-4,"labelPadding":10,"domainWidth":1.6,"tickWidth":1.3}},
    "y":{"field":"v","type":"quantitative","scale":{"domain":[0,40],"range":[915,806],"nice":false,"zero":false},"axis":{"orient":"left","offset":-148,"values":[0,10,20,30,40],"labelExpr":"datum.value % 20 === 0 ? datum.label : ''","title":"Variability (spk s⁻¹)","titleFontSize":15.5,"titleX":-41,"titleY":856,"titleBaseline":"middle","titleAngle":270,"labelFontSize":15.5,"tickSize":-4,"labelPadding":9,"domainWidth":1.6,"tickWidth":1.3}},
    "detail":{"field":"type","type":"nominal"},
    "strokeDash":{"condition":{"test":"datum.type === 'Type II'","value":[7,4]},"value":[1,0]},
    "order":{"value":null}}},
  {"data":{"name":"notes"},"transform":[{"filter":"datum.id === 'brk'"}],"mark":{"type":"rect","color":"white","xOffset":19,"x2Offset":27,"yOffset":-4,"y2Offset":4},"encoding":{"x":{"datum":"Normal"},"x2":{"datum":"Normal"},"y":{"datum":0},"y2":{"datum":0}}},
  {"data":{"name":"notes"},"transform":[{"filter":"datum.id === 'brk'"}],"mark":{"type":"text","align":"center","baseline":"middle","fontSize":14,"dx":23},"encoding":{"x":{"datum":"Normal"},"y":{"datum":0},"text":{"field":"txt"}}},
  {"data":{"name":"var"},"transform":[{"filter":"datum.method === '1/ISI'"}],"mark":{"type":"rule","color":"#ed1c24","strokeWidth":1.2},"encoding":{"x":{"field":"cond","type":"nominal"},"y":{"field":"lo","type":"quantitative"},"y2":{"field":"hi"}}},
  {"data":{"name":"var"},"transform":[{"filter":"datum.method === '1/ISI'"}],"mark":{"type":"tick","color":"#ed1c24","thickness":1.2,"size":6,"opacity":1},"encoding":{"x":{"field":"cond","type":"nominal"},"y":{"field":"lo","type":"quantitative"}}},
  {"data":{"name":"var"},"transform":[{"filter":"datum.method === '1/ISI'"}],"mark":{"type":"tick","color":"#ed1c24","thickness":1.2,"size":6,"opacity":1},"encoding":{"x":{"field":"cond","type":"nominal"},"y":{"field":"hi","type":"quantitative"}}},
  {"data":{"name":"var"},"transform":[{"filter":"datum.method === '1/ISI'"}],"mark":{"type":"point","filled":true,"color":"#ed1c24","opacity":1},"encoding":{"x":{"field":"cond","type":"nominal"},"y":{"field":"v","type":"quantitative"},"shape":{"condition":{"test":"datum.type === 'Type I'","value":"diamond"},"value":"square"},"size":{"condition":{"test":"datum.type === 'Type I'","value":70},"value":100}}}
 ]}
]
}
